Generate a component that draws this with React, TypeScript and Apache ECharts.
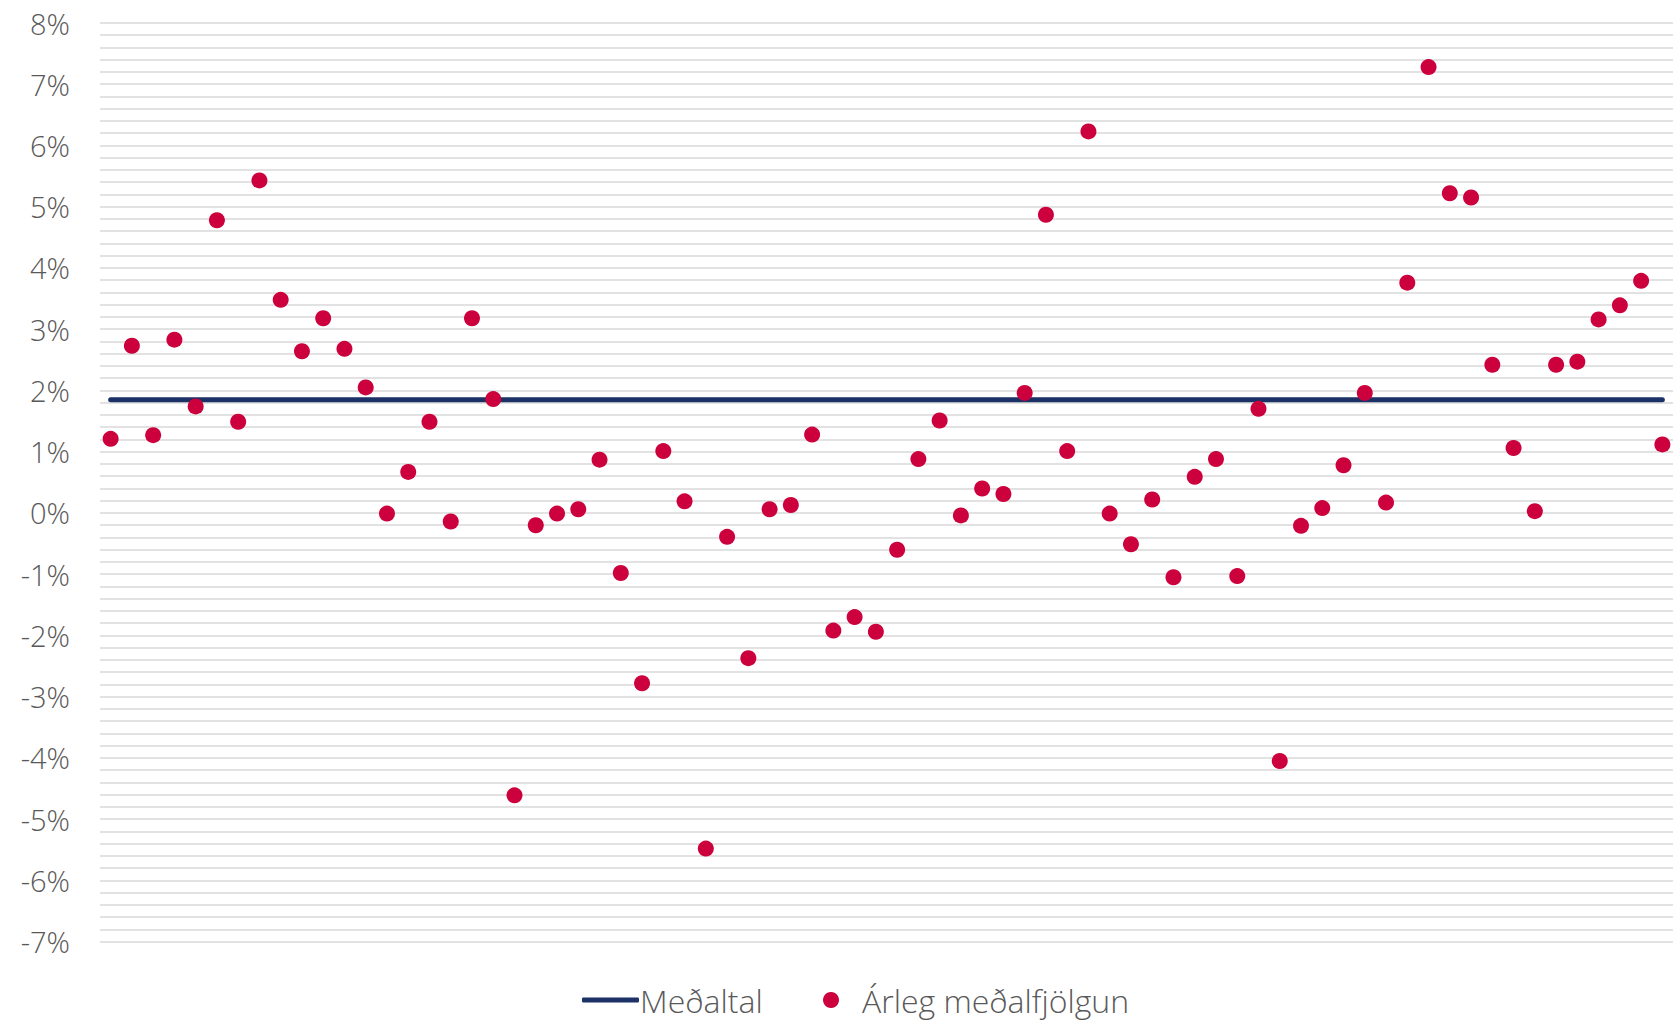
import React, { useEffect, useRef } from "react";
import * as echarts from "echarts";

const growth: number[] = [
  1.21, 2.73, 1.27, 2.83, 1.74, 4.78, 1.49, 5.43, 3.48, 2.64,
  3.18, 2.68, 2.05, -0.01, 0.67, 1.49, -0.14, 3.18, 1.86, -4.61,
  -0.2, -0.01, 0.06, 0.87, -0.98, -2.78, 1.01, 0.19, -5.48, -0.39,
  -2.37, 0.06, 0.13, 1.28, -1.92, -1.7, -1.94, -0.6, 0.88, 1.51,
  -0.04, 0.4, 0.31, 1.96, 4.87, 1.01, 6.23, -0.01, -0.51, 0.22,
  -1.05, 0.59, 0.88, -1.03, 1.7, -4.05, -0.21, 0.08, 0.78, 1.96,
  0.17, 3.76, 7.28, 5.22, 5.15, 2.42, 1.06, 0.03, 2.42, 2.47,
  3.16, 3.39, 3.79, 1.12,
];
const meanValue = 1.85;
const categories: string[] = growth.map((_, i) => String(i + 1));
const meanSeries: number[] = categories.map(() => meanValue);

const seriesNames = ["Meðaltal", "Árleg meðalfjölgun"];
const yMin = -7;
const yMax = 8;

export default function App() {
  const ref = useRef<HTMLDivElement>(null);
  useEffect(() => {
    if (!ref.current) return;
    const chart = echarts.init(ref.current, undefined, { renderer: "svg" });
    const font = "'Open Sans', Roboto, sans-serif";
    const legendText = {
      fontFamily: font,
      fontWeight: 300,
      fontSize: 32,
      lineHeight: 34,
      color: "#595959",
    };
    chart.setOption({
      animation: false,
      grid: { left: 100, right: -3, top: 23, bottom: 79.3, containLabel: false },
      legend: [
        {
          data: [{ name: seriesNames[0], icon: "roundRect" }],
          left: 577,
          top: 978,
          itemWidth: 57,
          itemHeight: 5,
          itemGap: 0,
          textStyle: { ...legendText, padding: [0, 0, 0, -4] },
        },
        {
          data: [{ name: seriesNames[1], icon: "circle" }],
          left: 818,
          top: 978,
          itemWidth: 16,
          itemHeight: 16,
          textStyle: { ...legendText, padding: [0, 0, 0, 18] },
        },
      ],
      xAxis: {
        type: "category",
        data: categories,
        boundaryGap: true,
        axisLine: { show: false },
        axisTick: { show: false },
        axisLabel: { show: false },
        splitLine: { show: false },
      },
      yAxis: {
        type: "value",
        min: yMin,
        max: yMax,
        interval: 1,
        axisLine: { show: false },
        axisTick: { show: false },
        axisLabel: {
          formatter: (v: number) => `${Math.round(v)}%`,
          fontFamily: font,
          fontWeight: 300,
          fontSize: 29,
          color: "#595959",
          margin: 30,
          padding: [0, 0, 6, 0],
        },
        splitLine: { show: true, lineStyle: { color: "#d9d9d9", width: 1.5 } },
        minorTick: { show: false, splitNumber: 5 },
        minorSplitLine: { show: true, lineStyle: { color: "#d9d9d9", width: 1.5 } },
      },
      series: [
        {
          name: seriesNames[0],
          type: "line",
          data: meanSeries,
          symbol: "none",
          showSymbol: false,
          lineStyle: { color: "#1c3166", width: 5, cap: "round" },
          itemStyle: { color: "#1c3166" },
          z: 2,
        },
        {
          name: seriesNames[1],
          type: "scatter",
          data: growth,
          symbol: "circle",
          symbolSize: 16,
          itemStyle: { color: "#cc003d", opacity: 1 },
          z: 3,
        },
      ],
    });
    return () => chart.dispose();
  }, []);
  return (
    <div
      ref={ref}
      style={{ position: "fixed", left: 0, top: 0, width: 1673, height: 1021, background: "#fff" }}
    />
  );
}
